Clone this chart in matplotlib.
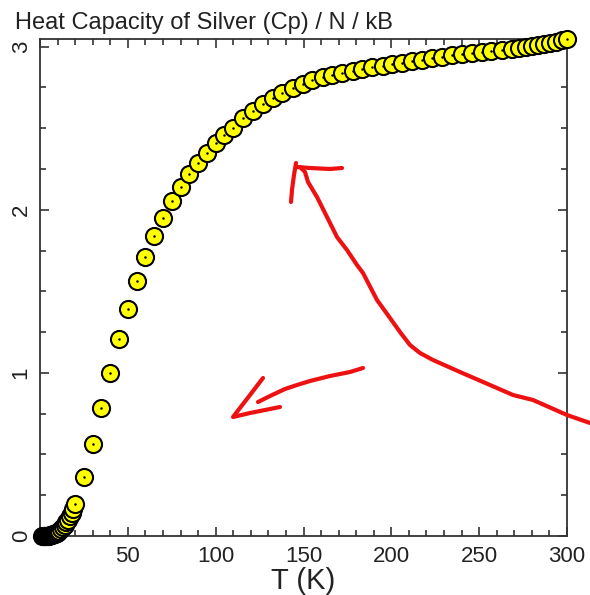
import matplotlib.pyplot as plt
from matplotlib.lines import Line2D
from matplotlib.ticker import MultipleLocator

# Cp / (N kB) of silver
temperature = [1, 1.5, 2, 2.5, 3, 3.5, 4, 4.5, 5, 5.5, 6, 6.5, 7, 7.5, 8, 8.5, 9, 9.5, 10,
               11, 12, 13, 14, 15, 16, 17, 18, 19, 20,
               25, 30, 35, 40, 45, 50, 55, 60, 65, 70, 75, 80, 85, 90, 95, 100, 105, 110,
               115.5, 121, 127, 132.5, 138, 144, 149.5, 155, 161, 166.5, 172, 178, 183.5,
               189, 195, 200.5, 206, 212, 217.5, 223, 229, 234.5, 240, 246, 251.5, 257,
               263, 268.5, 272.5, 276.5, 280, 283.5, 287, 290.5, 294, 297, 300]
cp_over_nkb = [0.0, 0.0001, 0.0002, 0.0004, 0.0006, 0.001, 0.0015, 0.002, 0.003, 0.004,
               0.005, 0.0065, 0.008, 0.010, 0.012, 0.014, 0.017, 0.020, 0.023,
               0.031, 0.041, 0.053, 0.067, 0.083, 0.101, 0.121, 0.143, 0.167, 0.194,
               0.362, 0.566, 0.787, 1.002, 1.21, 1.393, 1.564, 1.712, 1.840, 1.951, 2.055,
               2.141, 2.221, 2.288, 2.350, 2.411, 2.460, 2.503,
               2.562, 2.607, 2.649, 2.684, 2.714, 2.745, 2.773, 2.793, 2.813, 2.826, 2.839,
               2.851, 2.862, 2.873, 2.883, 2.891, 2.902, 2.913, 2.921, 2.929, 2.939, 2.946,
               2.953, 2.960, 2.967, 2.974, 2.982, 2.988, 2.994, 3.000, 3.005, 3.011, 3.017,
               3.023, 3.031, 3.038, 3.045]

x_ticks = [0, 50, 100, 150, 200, 250, 300]
x_tick_labels = ['', '50', '100', '150', '200', '250', '300']
y_ticks = [0, 1, 2, 3]
y_tick_labels = ['0', '1', '2', '3']

# hand-drawn red marks, in pixels from the top-left of the picture
scribbles = [
    [(590, 423), (567, 415), (533, 400), (513, 395), (490, 385), (460, 372), (433, 360),
     (420, 353), (410, 345), (400, 332), (390, 318), (377, 300), (363, 273), (357, 265),
     (347, 250), (337, 237), (327, 217), (317, 197), (308, 182), (305, 172), (300, 167)],
    [(342, 168), (330, 169), (310, 168), (297, 167)],
    [(296, 163), (294, 175), (292, 190), (291, 202)],
    [(363, 368), (350, 372), (330, 376), (310, 381), (297, 385), (285, 389), (270, 396),
     (258, 402)],
    [(263, 378), (250, 395), (233, 417), (250, 413), (280, 407)],
]

plt.rcParams['font.family'] = ['Liberation Sans', 'DejaVu Sans']

W, H = 590, 595
fig = plt.figure(figsize=(W / 100, H / 100), dpi=100)
ax = fig.add_axes([40 / W, 1 - 536 / H, 527 / W, 497 / H])

# each dot right after its circle so the next circle covers it
for i, (t, c) in enumerate(zip(temperature, cp_over_nkb)):
    ax.plot(t, c, 'o', ms=12.3, mfc='#ffff00', mec='black', mew=1.5,
            zorder=3 + i * 0.01, clip_on=False)
    ax.plot(t, c, 'o', ms=1.8, mfc='black', mec='black', mew=0,
            zorder=3.005 + i * 0.01, clip_on=False)

ax.set_xlim(0, 300)
ax.set_ylim(0, 3.047)
ax.set_xticks(x_ticks, x_tick_labels)
ax.set_yticks(y_ticks, y_tick_labels)
ax.xaxis.set_minor_locator(MultipleLocator(10))
ax.yaxis.set_minor_locator(MultipleLocator(0.25))

ax.tick_params(which='both', direction='in', top=True, right=True,
               width=1.2, color='#333333', labelcolor='#222222', labelsize=16)
ax.tick_params(which='major', length=6.5)
ax.tick_params(which='minor', length=4)
ax.tick_params(axis='x', pad=7)
ax.tick_params(axis='y', pad=6)
for lab in ax.get_yticklabels():
    lab.set_rotation(90)
    lab.set_va('center')

for s in ax.spines.values():
    s.set_color('#333333')
    s.set_linewidth(1.3)

ax.set_xlabel('T (K)', fontsize=21, color='#222222', labelpad=0)
fig.text(15 / W, 1 - 29 / H, 'Heat Capacity of Silver (Cp) / N / kB',
         fontsize=17, color='#222222', ha='left', va='baseline')

for pts in scribbles:
    xs = [p[0] / W for p in pts]
    ys = [1 - p[1] / H for p in pts]
    fig.add_artist(Line2D(xs, ys, transform=fig.transFigure, color='#ee1111',
                          lw=3, solid_capstyle='round', solid_joinstyle='round',
                          zorder=10))

fig.savefig('out.png', dpi=100)
